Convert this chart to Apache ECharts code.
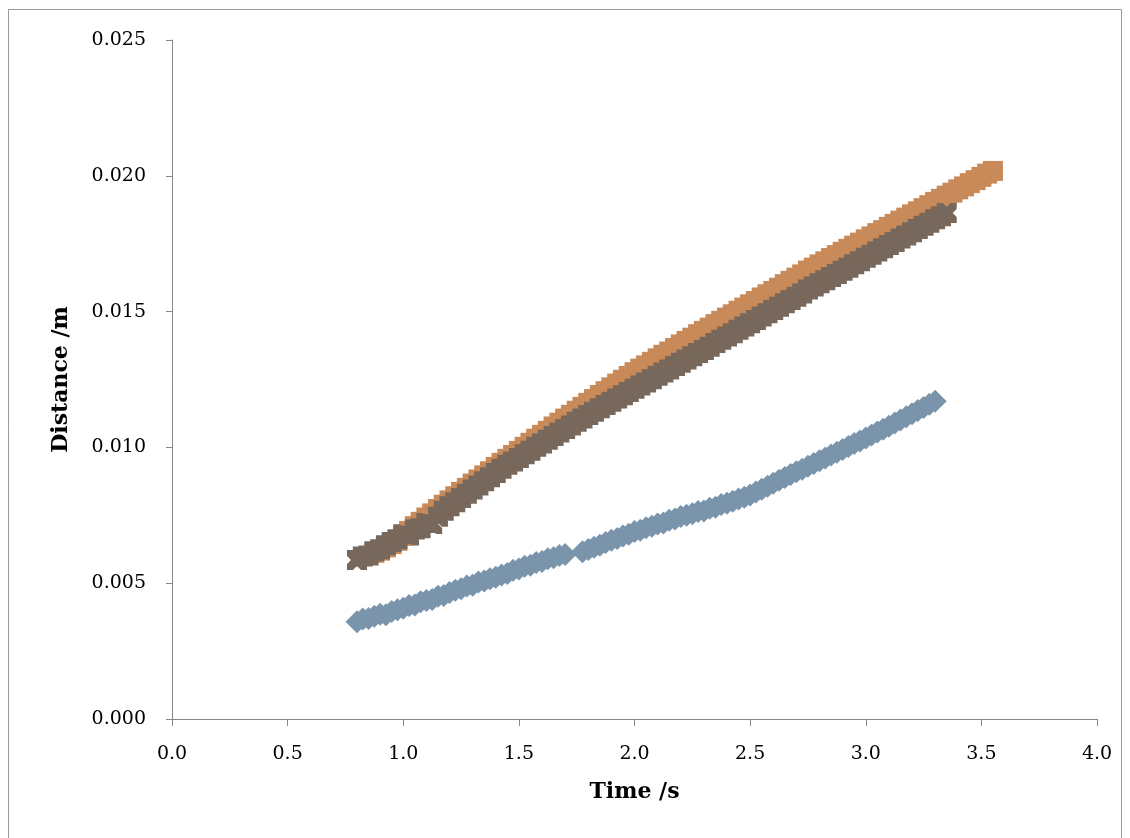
<!DOCTYPE html>
<html>
<head>
<meta charset="utf-8">
<script src="https://cdn.jsdelivr.net/npm/echarts@6/dist/echarts.min.js"></script>
<style>
html,body{margin:0;padding:0;background:#fff;}
#chart{width:1130px;height:838px;}
</style>
</head>
<body>
<div id="chart"></div>
<script>
// Time stamps (s) shared by all series
const times = [
0.800,0.825,0.850,0.875,0.900,0.925,0.950,0.975,
1.000,1.025,1.050,1.075,1.100,1.125,1.150,1.175,
1.200,1.225,1.250,1.275,1.300,1.325,1.350,1.375,
1.400,1.425,1.450,1.475,1.500,1.525,1.550,1.575,
1.600,1.625,1.650,1.675,1.700,1.725,1.750,1.775,
1.800,1.825,1.850,1.875,1.900,1.925,1.950,1.975,
2.000,2.025,2.050,2.075,2.100,2.125,2.150,2.175,
2.200,2.225,2.250,2.275,2.300,2.325,2.350,2.375,
2.400,2.425,2.450,2.475,2.500,2.525,2.550,2.575,
2.600,2.625,2.650,2.675,2.700,2.725,2.750,2.775,
2.800,2.825,2.850,2.875,2.900,2.925,2.950,2.975,
3.000,3.025,3.050,3.075,3.100,3.125,3.150,3.175,
3.200,3.225,3.250,3.275,3.300,3.325,3.350,3.375,
3.400,3.425,3.450,3.475,3.500,3.525,3.550
];
// Distance (m), orange squares (null = hidden / no sample)
const orangeValues = [
null,null,null,0.00612,0.00620,0.00632,0.00644,0.00656,
0.00674,0.00692,0.00710,0.00726,0.00742,0.00757,0.00773,0.00789,
0.00805,0.00820,0.00836,0.00851,0.00867,0.00882,0.00897,0.00912,
0.00928,0.00943,0.00958,0.00972,0.00987,0.01002,0.01017,0.01032,
0.01046,0.01061,0.01077,0.01091,0.01106,0.01120,0.01135,0.01149,
0.01164,0.01178,0.01193,0.01207,0.01221,0.01235,0.01249,0.01263,
0.01277,0.01290,0.01302,0.01315,0.01328,0.01341,0.01353,0.01366,
0.01379,0.01392,0.01404,0.01417,0.01429,0.01441,0.01454,0.01466,
0.01478,0.01490,0.01503,0.01515,0.01527,0.01539,0.01552,0.01564,
0.01576,0.01588,0.01601,0.01613,0.01625,0.01637,0.01651,0.01662,
0.01674,0.01685,0.01697,0.01708,0.01720,0.01731,0.01743,0.01754,
0.01766,0.01777,0.01789,0.01800,0.01812,0.01823,0.01835,0.01846,
0.01858,0.01869,0.01881,0.01892,0.01904,0.01915,0.01927,0.01938,
0.01950,0.01961,0.01973,0.01984,0.01996,0.02008,0.02018
];
// Distance (m), brown crosses
const brownValues = [
0.00585,0.00598,0.00602,0.00618,0.00625,0.00640,0.00652,0.00662,
0.00680,0.00676,0.00698,0.00702,0.00722,0.00718,0.00745,0.00767,
0.00783,0.00798,0.00814,0.00829,0.00845,0.00860,0.00875,0.00890,
0.00906,0.00921,0.00936,0.00948,0.00961,0.00975,0.00988,0.01002,
0.01014,0.01028,0.01042,0.01055,0.01068,0.01081,0.01094,0.01106,
0.01119,0.01131,0.01144,0.01156,0.01168,0.01180,0.01192,0.01204,
0.01216,0.01228,0.01239,0.01251,0.01264,0.01276,0.01287,0.01300,
0.01312,0.01324,0.01336,0.01348,0.01359,0.01371,0.01384,0.01396,
0.01408,0.01420,0.01433,0.01445,0.01457,0.01469,0.01482,0.01494,
0.01506,0.01518,0.01531,0.01543,0.01555,0.01567,0.01581,0.01592,
0.01604,0.01615,0.01627,0.01638,0.01650,0.01661,0.01674,0.01685,
0.01698,0.01709,0.01721,0.01733,0.01745,0.01756,0.01769,0.01780,
0.01792,0.01804,0.01816,0.01827,0.01840,0.01851,0.01863
];
// Distance (m), blue diamonds (null = no sample)
const blueValues = [
0.00358,0.00368,0.00370,0.00378,0.00386,0.00384,0.00396,0.00402,
0.00408,0.00418,0.00420,0.00432,0.00436,0.00440,0.00452,0.00455,
0.00466,0.00474,0.00480,0.00490,0.00492,0.00504,0.00508,0.00516,
0.00522,0.00530,0.00536,0.00548,0.00552,0.00562,0.00566,0.00576,
0.00580,0.00590,0.00594,0.00602,0.00606,null,null,0.00616,
0.00624,0.00632,0.00640,0.00650,0.00658,0.00665,0.00674,0.00680,
0.00690,0.00695,0.00704,0.00710,0.00718,0.00722,0.00732,0.00736,
0.00746,0.00750,0.00756,0.00764,0.00766,0.00776,0.00780,0.00790,
0.00794,0.00802,0.00810,0.00816,0.00825,0.00836,0.00846,0.00857,
0.00868,0.00879,0.00889,0.00900,0.00910,0.00920,0.00931,0.00941,
0.00951,0.00961,0.00972,0.00982,0.00992,0.01003,0.01014,0.01024,
0.01035,0.01046,0.01057,0.01067,0.01078,0.01090,0.01101,0.01113,
0.01124,0.01136,0.01147,0.01159,0.01170
];
const xTicks = [0.0,0.5,1.0,1.5,2.0,2.5,3.0,3.5,4.0];
const yTicks = [0.000,0.005,0.010,0.015,0.020,0.025];

function pairs(vals){
  const out=[];
  for(let i=0;i<vals.length;i++){ if(vals[i]!==null) out.push([times[i], vals[i]]); }
  return out;
}

const FONT = 'DejaVu Serif';
const axisColor = '#868686';
const chart = echarts.init(document.getElementById('chart'), null, {renderer:'canvas'});
chart.setOption({
  animation:false,
  backgroundColor:'#ffffff',
  graphic:[{type:'rect', shape:{x:8.5,y:9.5,width:1113,height:860}, style:{fill:'none', stroke:'#9a9a9a', lineWidth:1}, silent:true, z:-10}],
  grid:{left:172, right:33, top:40, bottom:119, containLabel:false},
  xAxis:{
    type:'value', min:xTicks[0], max:xTicks[xTicks.length-1], interval:0.5,
    name:'Time /s', nameLocation:'middle', nameGap:62,
    nameTextStyle:{fontFamily:FONT, fontWeight:'bold', fontSize:22, color:'#000'},
    axisLine:{show:true, onZero:false, lineStyle:{color:axisColor, width:1}},
    axisTick:{show:true, inside:false, length:7, lineStyle:{color:axisColor}},
    axisLabel:{margin:26, fontFamily:FONT, fontSize:19, color:'#000', formatter:v=>v.toFixed(1)},
    splitLine:{show:false}
  },
  yAxis:{
    type:'value', min:yTicks[0], max:yTicks[yTicks.length-1], interval:0.005,
    name:'Distance /m', nameLocation:'middle', nameGap:100, nameRotate:90,
    nameTextStyle:{fontFamily:FONT, fontWeight:'bold', fontSize:22, color:'#000'},
    axisLine:{show:true, onZero:false, lineStyle:{color:axisColor, width:1}},
    axisTick:{show:true, inside:false, length:6, lineStyle:{color:axisColor}},
    axisLabel:{margin:26, fontFamily:FONT, fontSize:19, color:'#000', formatter:v=>v.toFixed(3)},
    splitLine:{show:false}
  },
  series:[
    {type:'scatter', name:'orange', data:pairs(orangeValues), symbol:'rect', symbolSize:20,
     itemStyle:{color:'#C98A5A', opacity:1}, z:2},
    {type:'scatter', name:'brown', data:pairs(brownValues),
     symbol:'path://M0,0 L6,0 L10,4 L14,0 L20,0 L20,6 L16,10 L20,14 L20,20 L14,20 L10,16 L6,20 L0,20 L0,14 L4,10 L0,6 Z',
     symbolSize:20, itemStyle:{color:'#78685C', opacity:1}, z:3},
    {type:'scatter', name:'blue', data:pairs(blueValues), symbol:'diamond', symbolSize:23,
     itemStyle:{color:'#7A95AB', opacity:1}, z:4}
  ]
});
</script>
</body>
</html>
